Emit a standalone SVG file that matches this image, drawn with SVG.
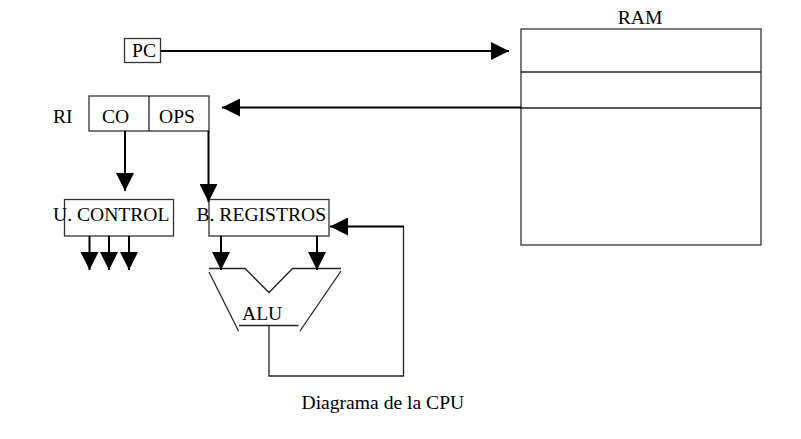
<svg xmlns="http://www.w3.org/2000/svg" width="801" height="439" viewBox="0 0 801 439">
<defs>
<style>
.box{fill:#fff;stroke:#333;stroke-width:1.3}
.ln{fill:none;stroke:#000;stroke-width:2}
.thin{fill:none;stroke:#222;stroke-width:1.3}
.t{font-family:"Liberation Serif","Times New Roman",serif;font-size:19.6px;fill:#000}
</style>
<marker id="ah" viewBox="0 0 18 18" refX="18" refY="9" markerWidth="18" markerHeight="18" markerUnits="userSpaceOnUse" orient="auto">
<path d="M0,0 L18,9 L0,18 Z" fill="#000"/>
</marker>
</defs>
<rect width="801" height="439" fill="#fff"/>
<g id="ram">
<rect class="box" x="521" y="29" width="240" height="216"/>
<line class="thin" x1="521" y1="72" x2="761" y2="72"/>
<line class="thin" x1="521" y1="108" x2="761" y2="108"/>
<text class="t" x="640" y="24" text-anchor="middle">RAM</text>
</g>
<g id="pc">
<rect class="box" x="124.5" y="38.5" width="36" height="24"/>
<text class="t" x="132" y="57">PC</text>
</g>
<g id="ri">
<text class="t" x="53" y="123">RI</text>
<rect class="box" x="89" y="96" width="120" height="35"/>
<line class="thin" x1="149" y1="96" x2="149" y2="131"/>
<text class="t" x="102" y="123">CO</text>
<text class="t" x="159" y="123">OPS</text>
</g>
<g id="ucontrol">
<rect class="box" x="64.5" y="199.5" width="109" height="36.5"/>
<text class="t" x="53" y="221">U. CONTROL</text>
</g>
<g id="bregistros">
<rect class="box" x="209" y="199.5" width="120" height="36.5"/>
<text class="t" x="196.5" y="221">B. REGISTROS</text>
</g>
<g id="alu">
<polyline class="thin" points="209,268.5 245,268.5 269,292.5 292.5,268.5 341,268.5"/>
<line class="thin" x1="209" y1="272" x2="238.5" y2="331"/>
<line class="thin" x1="341" y1="271" x2="300" y2="331"/>
<line class="thin" x1="239" y1="325.5" x2="298.5" y2="325.5"/>
<text class="t" x="242" y="320">ALU</text>
</g>
<g id="connectors">
<line class="ln" x1="161" y1="51" x2="509" y2="51" marker-end="url(#ah)"/>
<line class="ln" x1="521" y1="107.5" x2="222" y2="107.5" marker-end="url(#ah)"/>
<line class="ln" x1="125" y1="131" x2="125" y2="191" marker-end="url(#ah)"/>
<line class="ln" x1="208.5" y1="131" x2="208.5" y2="202" marker-end="url(#ah)"/>
<line class="ln" x1="89.5" y1="236" x2="89.5" y2="270" marker-end="url(#ah)"/>
<line class="ln" x1="109" y1="236" x2="109" y2="270" marker-end="url(#ah)"/>
<line class="ln" x1="129" y1="236" x2="129" y2="270" marker-end="url(#ah)"/>
<line class="ln" x1="221" y1="236" x2="221" y2="270" marker-end="url(#ah)"/>
<line class="ln" x1="317" y1="236" x2="317" y2="270" marker-end="url(#ah)"/>
<polyline class="thin" points="269,325.5 269,376 403.5,376 403.5,226.5"/>
<line class="ln" x1="404" y1="226.5" x2="330" y2="226.5" marker-end="url(#ah)"/>
</g>
<text class="t" x="301.5" y="409">Diagrama de la CPU</text>
</svg>
